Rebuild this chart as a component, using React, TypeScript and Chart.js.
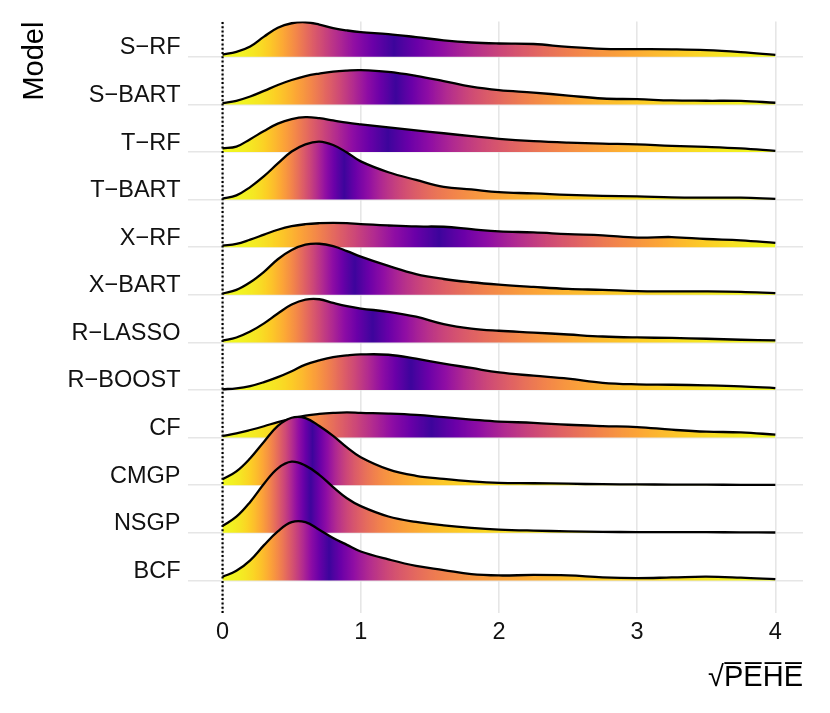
import React, { useEffect, useRef } from "react";
import { Chart, registerables } from "chart.js";

Chart.register(...registerables);

// Models, top to bottom
const models = ["S−RF", "S−BART", "T−RF", "T−BART", "X−RF", "X−BART", "R−LASSO", "R−BOOST", "CF", "CMGP", "NSGP", "BCF"];

// x grid on which the densities were read
const xGrid = [0, 0.1, 0.2, 0.3, 0.4, 0.5, 0.6, 0.7, 0.8, 0.9, 1.0, 1.2, 1.4, 1.6, 1.8, 2.0, 2.25, 2.5, 2.75, 3.0, 3.25, 3.5, 3.75, 4.0];

// Density heights (ridge units, 48.2 = one row spacing)
const densSRF = [2.3, 5, 10.5, 20.5, 29.5, 34, 35, 32.7, 29, 26.7, 25, 23, 20, 16.7, 14.5, 13.5, 13, 10, 8, 7.8, 7.6, 6.8, 4.8, 2];
const densSBART = [1.3, 3.7, 8, 13.7, 19.7, 24.7, 28.7, 31.3, 33.3, 34.3, 34.7, 33, 29, 23.7, 18, 14.5, 12, 9, 6, 5.3, 4, 3.7, 3.5, 1.7];
const densTRF = [3.8, 5.5, 13, 21.3, 28.7, 33.3, 35.3, 34.3, 32, 29.7, 28, 25, 22, 19, 16, 13.3, 11, 9.5, 8.5, 7.7, 6.2, 5.2, 3.7, 1.2];
const densTBART = [1, 4.3, 12.7, 23.7, 36.7, 48.7, 56, 58.7, 55.3, 47.7, 38.7, 27.7, 20, 13, 10.3, 7.5, 6.3, 4.7, 3.7, 3.3, 2.3, 2, 2, 0.8];
const densXRF = [1.7, 3.3, 7.7, 12.7, 17.7, 21.3, 23.3, 24.3, 24.7, 24.3, 23.3, 22, 21, 20.7, 18.3, 16, 15, 13.3, 12, 9.7, 10.3, 8.3, 7, 4.3];
const densXBART = [1.3, 5, 12.7, 23.3, 36, 45.3, 50.7, 51.7, 49.3, 44.3, 38.7, 29.3, 21, 16, 12.7, 10.3, 8, 6, 5, 3.7, 3.5, 3.5, 3, 1.7];
const densRLASSO = [1.7, 5, 11, 19.3, 29.3, 38.3, 43.3, 43.7, 40, 36.7, 34.3, 31, 26, 18.5, 14, 11.8, 10, 8, 6, 5, 4.5, 3.7, 2.7, 2];
const densRBOOST = [0.7, 1.7, 4, 8, 13, 19, 25.7, 30, 33.3, 35, 36, 35.7, 31.7, 26.7, 22.3, 17.8, 14.5, 11.5, 7.3, 5.7, 5.3, 4.7, 3.7, 2];
const densCF = [1.7, 4.3, 7.7, 11.5, 15.7, 19.3, 22.3, 24, 25, 25.5, 25, 24.3, 23, 20.7, 18.3, 16.2, 15, 13, 11.7, 10.7, 8, 6, 5.3, 3];
const densCMGP = [6, 14, 27.3, 44, 60, 68.3, 68, 60, 50, 38.3, 28.3, 16, 9.5, 6.3, 3.8, 2.3, 2, 1.5, 1, 0.8, 0.6, 0.5, 0.4, 0.3];
const densNSGP = [7, 16.3, 31.3, 49.7, 65.3, 72, 68, 58.7, 46.3, 35, 27, 16.5, 11, 7.5, 5, 3.3, 2.2, 1.5, 1, 0.7, 0.7, 0.6, 0.5, 0.3];
const densBCF = [3.7, 9.7, 20.3, 35.7, 49.7, 59, 59, 51.3, 43, 36, 29.3, 21.3, 14.7, 10.5, 6.3, 5, 5.5, 5, 3, 2.3, 3, 3.8, 2.8, 1.2];

const densities = [densSRF, densSBART, densTRF, densTBART, densXRF, densXBART, densRLASSO, densRBOOST, densCF, densCMGP, densNSGP, densBCF];

const xTicks = [0, 1, 2, 3, 4];
const xTitle = "√P̅E̅H̅E̅";
const yTitle = "Model";

// scale / layout settings
const X_MIN = -0.25;
const X_MAX = 4.2;
const Y_MIN = -0.685;
const Y_MAX = 11.74;
const RIDGE_SCALE = 1 / 48.2;

const FONT = "'Liberation Sans', Arial, Helvetica, sans-serif";
const GRID = "#e6e6e6";

// plasma colour map
const PLASMA = ["#0d0887", "#41049d", "#6a00a8", "#8f0da4", "#b12a90", "#cc4778", "#e16462", "#f2844b", "#fca636", "#fcce25", "#f0f921"];
const PLASMA_LOW = 0.09; // darkest end reached at the median

function hexToRgb(h: string) {
  return [parseInt(h.slice(1, 3), 16), parseInt(h.slice(3, 5), 16), parseInt(h.slice(5, 7), 16)];
}
const PLASMA_RGB = PLASMA.map(hexToRgb);

function plasma(t: number) {
  const tt = Math.max(0, Math.min(1, t)) * (PLASMA_RGB.length - 1);
  const i = Math.min(PLASMA_RGB.length - 2, Math.floor(tt));
  const f = tt - i;
  const a = PLASMA_RGB[i];
  const b = PLASMA_RGB[i + 1];
  const c = a.map((v, k) => Math.round(v + (b[k] - v) * f));
  return `rgb(${c[0]},${c[1]},${c[2]})`;
}

function interp(dens: number[], x: number) {
  for (let k = 0; k < xGrid.length - 1; k++) {
    if (x <= xGrid[k + 1]) {
      const f = (x - xGrid[k]) / (xGrid[k + 1] - xGrid[k]);
      return dens[k] + (dens[k + 1] - dens[k]) * f;
    }
  }
  return dens[dens.length - 1];
}

// colour stops from the tail probability 0.5 - |0.5 - ecdf|
function tailStops(dens: number[]) {
  const N = 400;
  const x0 = xGrid[0];
  const x1 = xGrid[xGrid.length - 1];
  const xs: number[] = [];
  const ys: number[] = [];
  for (let i = 0; i <= N; i++) {
    const x = x0 + ((x1 - x0) * i) / N;
    xs.push(x);
    ys.push(interp(dens, x));
  }
  const cum = [0];
  for (let i = 1; i <= N; i++) cum.push(cum[i - 1] + ((ys[i] + ys[i - 1]) / 2) * (xs[i] - xs[i - 1]));
  const total = cum[N];
  return cum.map((c, i) => {
    const e = c / total;
    const tail = 0.5 - Math.abs(0.5 - e);
    const t = 1 - (tail / 0.5) * (1 - PLASMA_LOW);
    return { off: i / N, color: plasma(t) };
  });
}

const stopsByModel = densities.map(tailStops);

function makeFill(chart: any, idx: number) {
  const { ctx, chartArea, scales } = chart;
  if (!chartArea || !scales || !scales.x) return "rgba(0,0,0,0)";
  const p0 = scales.x.getPixelForValue(xGrid[0]);
  const p1 = scales.x.getPixelForValue(xGrid[xGrid.length - 1]);
  const g = ctx.createLinearGradient(p0, 0, p1, 0);
  for (const s of stopsByModel[idx]) g.addColorStop(s.off, s.color);
  return g;
}

export default function App() {
  const ref = useRef<HTMLCanvasElement | null>(null);

  useEffect(() => {
    if (!ref.current) return;
    Chart.defaults.font.family = FONT;

    const n = models.length;
    const ridgeSets: any[] = [];
    // bottom rows first so they are drawn on top
    for (let idx = n - 1; idx >= 0; idx--) {
      const row = n - 1 - idx;
      const dens = densities[idx];
      ridgeSets.push({
        label: models[idx],
        data: xGrid.map((x, k) => ({ x, y: row + dens[k] * RIDGE_SCALE })),
        borderColor: "#000000",
        borderWidth: 2.3,
        borderJoinStyle: "round",
        pointRadius: 0,
        tension: 0.4,
        fill: { value: row },
        backgroundColor: (c: any) => makeFill(c.chart, idx),
      });
    }

    const vline = {
      label: "zero",
      data: [
        { x: 0, y: Y_MIN },
        { x: 0, y: Y_MAX },
      ],
      borderColor: "#000000",
      borderWidth: 2.2,
      borderDash: [2, 2.3],
      pointRadius: 0,
      fill: false,
    };

    const chart = new Chart(ref.current, {
      type: "line",
      data: { datasets: [vline, ...ridgeSets] },
      options: {
        animation: false,
        responsive: true,
        maintainAspectRatio: false,
        layout: { padding: { top: 14, right: 27, left: 0, bottom: 0 } },
        plugins: { legend: { display: false }, tooltip: { enabled: false } },
        scales: {
          x: {
            type: "linear",
            min: X_MIN,
            max: X_MAX,
            afterBuildTicks: (s: any) => {
              s.ticks = xTicks.map((v) => ({ value: v }));
            },
            afterFit: (s: any) => {
              s.height = 100;
            },
            ticks: {
              font: { size: 23.5, family: FONT },
              color: "#111111",
              padding: 5,
              autoSkip: false,
              maxRotation: 0,
              callback: (v: any) => String(v),
            },
            grid: { color: GRID, lineWidth: 1.6, drawTicks: false },
            border: { display: false },
            title: {
              display: true,
              text: xTitle,
              align: "end",
              color: "#000000",
              font: { size: 29, family: FONT },
              padding: { top: 0, bottom: 17.3 },
            },
          },
          y: {
            type: "linear",
            min: Y_MIN,
            max: Y_MAX,
            afterBuildTicks: (s: any) => {
              s.ticks = models.map((_, i) => ({ value: i }));
            },
            afterFit: (s: any) => {
              s.width = 188;
            },
            ticks: {
              font: { size: 23.5, family: FONT },
              color: "#111111",
              padding: 7.5,
              labelOffset: -9,
              autoSkip: false,
              callback: (v: any) => models[models.length - 1 - Math.round(Number(v))],
            },
            grid: { color: GRID, lineWidth: 1.6, drawTicks: false },
            border: { display: false },
            title: {
              display: true,
              text: yTitle,
              align: "end",
              color: "#000000",
              font: { size: 29, family: FONT },
              padding: { top: 17.6, bottom: 0 },
            },
          },
        },
      } as any,
    });

    return () => chart.destroy();
  }, []);

  return (
    <div style={{ position: "fixed", left: 0, top: 0, width: 830, height: 713, background: "#ffffff" }}>
      <canvas ref={ref} />
    </div>
  );
}
